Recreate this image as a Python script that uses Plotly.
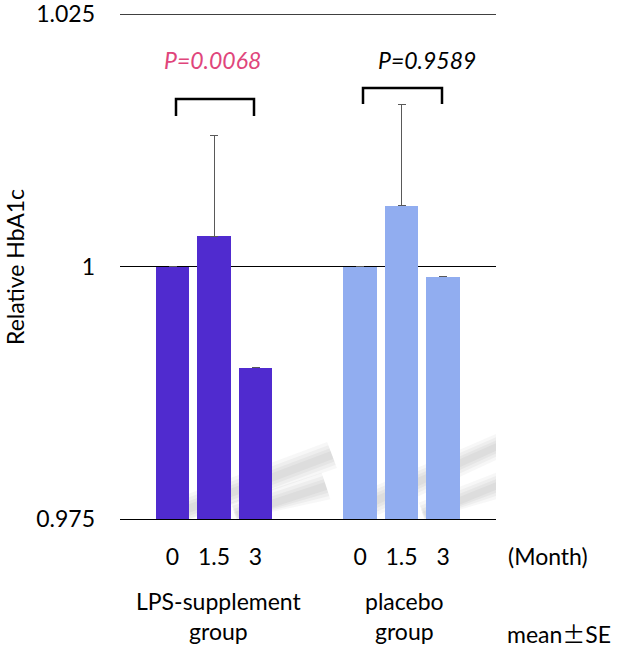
import math
import plotly.graph_objects as go

# ---- data ----
groups = ["LPS-supplement<br>group", "placebo<br>group"]
months = ["0", "1.5", "3"]
lps_mean = [1.0000, 1.0030, 0.9900]
lps_se = [0.0000, 0.0100, 0.0000]
placebo_mean = [1.0000, 1.0060, 0.9990]
placebo_se = [0.0000, 0.0100, 0.0000]
p_values = ["P=0.0068", "P=0.9589"]
y_ticks = [0.975, 1.0, 1.025]
y_tick_text = ["0.975", "1", "1.025"]

colors = ["#502BCF", "#91ADF0"]
p_colors = ["#E0457B", "#000000"]

W, H = 628, 654
L, R, T, B = 120, 496, 14, 519  # plot area in window pixels
GROUP_STEP = 4.52

def px(xp):
    return (xp - L) / (R - L)

def py(yp):
    return (B - yp) / (B - T)

fig = go.Figure()
all_means = [lps_mean, placebo_mean]
all_se = [lps_se, placebo_se]
tickvals, ticktext = [], []
for g in range(2):
    xs = [g * GROUP_STEP + i for i in range(len(months))]
    tickvals += xs
    ticktext += months
    fig.add_trace(go.Bar(
        x=xs, y=[m - 0.975 for m in all_means[g]], base=0.975,
        width=0.81, marker=dict(color=colors[g], line=dict(width=0)),
        error_y=dict(type="data", symmetric=False, array=all_se[g],
                     arrayminus=[0] * len(months), color="#595959",
                     thickness=1, width=4),
        showlegend=False,
    ))

font = "Lato, 'Open Sans', sans-serif"

# soft diagonal shadow streaks behind the bars (decoration)
def band(x0, y0, x1, y1, thick, opacity):
    dx, dy = x1 - x0, y1 - y0
    n = math.hypot(dx, dy)
    nx, ny = -dy / n * thick / 2, dx / n * thick / 2
    pts = [(x0 + nx, y0 + ny), (x1 + nx, y1 + ny), (x1 - nx, y1 - ny), (x0 - nx, y0 - ny)]
    pts = [(min(max(a, L), R), min(b, B)) for a, b in pts]
    path = "M " + " L ".join(f"{px(a)},{py(b)}" for a, b in pts) + " Z"
    fig.add_shape(type="path", xref="paper", yref="paper", path=path,
                  fillcolor="#7a7a7a", opacity=opacity, line=dict(width=0),
                  layer="below")

streaks = [
    [(185, 510, 332, 455), (235, 516, 326, 486)],
    [(373, 502, 520, 447), (423, 516, 514, 486)],
]
for grp in streaks:
    for (x0, y0, x1, y1) in grp:
        for th, op in [(28, 0.06), (21, 0.07), (14, 0.08), (8, 0.08)]:
            band(x0, y0, x1, y1, th, op)

# top grid line
fig.add_shape(type="line", xref="paper", yref="y", x0=0, x1=1,
              y0=y_ticks[-1], y1=y_ticks[-1], line=dict(color="black", width=1.3))

# brackets (pixel positions)
brackets = [(176, 254, 99, 116), (363, 442, 88, 104)]
for x0, x1, yt, yb in brackets:
    fig.add_shape(type="path", xref="paper", yref="paper",
                  path=f"M {px(x0)},{py(yb)} L {px(x0)},{py(yt)} L {px(x1)},{py(yt)} L {px(x1)},{py(yb)}",
                  line=dict(color="black", width=2.5))

def note(text, xp, yp, size=23, color="black", angle=0):
    fig.add_annotation(x=px(xp), y=py(yp), xref="paper", yref="paper",
                       text=text, showarrow=False, align="center",
                       xanchor="center", yanchor="middle", textangle=angle,
                       font=dict(family=font, size=size, color=color))

p_pos = [(212, 60), (427, 60)]
for txt, (xp, yp), c in zip(p_values, p_pos, p_colors):
    note(f"<i>{txt}</i>", xp, yp, color=c)

grp_x = [219, 404]
for gname, xp in zip(groups, grp_x):
    note(gname, xp, 616)

note("(Month)", 548, 556)
note("mean<span style=\"font-family:'Noto Sans CJK JP'\">±</span>SE", 559, 633)
note("Relative HbA1c", 15, 267, angle=-90)

fig.update_layout(
    width=W, height=H,
    margin=dict(l=L, r=W - R, t=T, b=H - B, autoexpand=False),
    plot_bgcolor="white", paper_bgcolor="white",
    bargap=0, showlegend=False,
    xaxis=dict(range=[-1.265, 7.795], tickvals=tickvals, ticktext=ticktext,
               showgrid=False, zeroline=False, showline=True,
               linecolor="black", linewidth=1.3, ticks="",
               ticklabelstandoff=17, automargin=False,
               tickfont=dict(family=font, size=23, color="black")),
    yaxis=dict(range=[0.975, 1.025], tickvals=y_ticks, ticktext=y_tick_text,
               showgrid=True, gridcolor="black", gridwidth=1.3,
               zeroline=False, showline=False, ticks="",
               ticklabelstandoff=24, automargin=False, ticklabeloverflow="allow",
               tickfont=dict(family=font, size=23, color="black")),
)

fig.write_html("out.html", config={"displayModeBar": False},
               post_script="document.body.style.margin='0';")
